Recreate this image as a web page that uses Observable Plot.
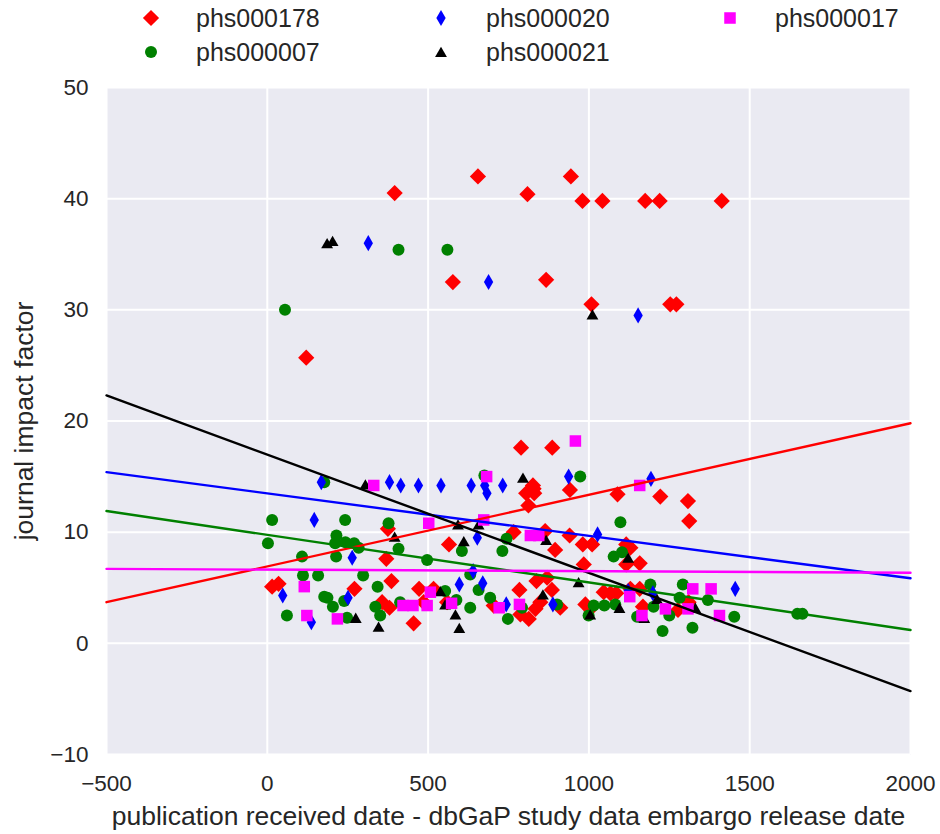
<!DOCTYPE html>
<html>
<head>
<meta charset="utf-8">
<script src="https://cdn.jsdelivr.net/npm/d3@7"></script>
<script src="https://cdn.jsdelivr.net/npm/@observablehq/plot@0.6"></script>
<style>
  html, body { margin: 0; padding: 0; background: white; }
  body { width: 940px; height: 834px; overflow: hidden; font-family: "Liberation Sans", Arial, sans-serif; }
  #legend { position: relative; width: 940px; height: 70px; }
  .item { position: absolute; height: 30px; display: flex; align-items: center; font-size: 25px; color: #262626; }
  .item svg { position: absolute; overflow: visible; }
</style>
</head>
<body>
<div id="legend"></div>
<div id="chart"></div>
<script>
// ---- data ----
const seriesNames = ["phs000178", "phs000007", "phs000020", "phs000021", "phs000017"];
const seriesColors = ["#ff0000", "#008000", "#0000ff", "#000000", "#ff00ff"];

const phs000178_x = [396, 655, 809, 944, 980, 1042, 1175, 1220, 1413, 577, 867, 1008, 1253, 1272, 121,
  789, 886, 826, 828, 805, 830, 812, 941, 1089, 1222, 1308, 1312, 375, 766, 864, 940, 565, 895, 981, 1010,
  1116, 1129, 984, 1116, 1158, 370, 386, 15, 35, 271, 472, 517, 357, 380, 455, 486, 559, 784, 837, 870, 885,
  704, 787, 813, 834, 849, 911, 989, 1004, 1046, 1067, 1085, 1129, 1158, 1310, 1168, 1277];
const phs000178_y = [40.5, 42.0, 40.4, 42.0, 39.8, 39.8, 39.8, 39.8, 39.8, 32.5, 32.7, 30.5, 30.5, 30.5, 25.7,
  17.6, 17.6, 14.2, 13.9, 13.5, 13.5, 12.4, 13.8, 13.4, 13.2, 12.8, 11.0, 10.3, 10.0, 10.1, 9.7, 8.9, 8.4, 8.9, 8.9,
  8.9, 8.6, 7.1, 7.1, 7.2, 7.6, 5.6, 5.1, 5.35, 4.9, 4.9, 4.9, 3.7, 3.2, 1.8, 3.7, 3.7, 4.8, 5.6, 5.9, 4.8,
  3.4, 2.6, 2.2, 3.1, 3.7, 3.2, 3.5, 3.1, 4.6, 4.5, 4.5, 4.9, 4.9, 3.7, 3.3, 3.0];

const phs000007_x = [408, 560, 55, 177, 675, 973, 15, 242, 377, 1098, 2, 215, 211, 243, 270, 284, 408, 108, 214,
  497, 605, 744, 731, 1077, 1103, 111, 158, 298, 631, 343, 177, 187, 239, 204, 336, 413, 61, 248, 351, 553, 588,
  657, 631, 693, 792, 748, 901, 999, 1015, 1048, 1082, 1191, 1292, 1282, 1370, 1201, 1150, 1250, 1452, 1229,
  1322, 1648, 1664];
const phs000007_y = [35.4, 35.4, 30.0, 14.5, 15.1, 15.0, 11.1, 11.1, 10.8, 10.9, 9.0, 9.7, 9.0, 9.1, 9.0, 8.6, 8.5,
  7.8, 7.8, 7.5, 8.3, 9.4, 8.3, 7.8, 8.2, 6.1, 6.1, 6.1, 6.2, 5.1, 4.2, 4.1, 3.8, 3.3, 3.3, 3.7, 2.5, 2.3, 2.5,
  4.7, 3.9, 4.8, 3.2, 4.1, 3.2, 2.2, 3.5, 2.5, 3.4, 3.4, 3.5, 5.3, 5.3, 4.1, 3.9, 3.3, 2.4, 2.5, 2.4, 1.1, 1.4,
  2.65, 2.65];

const phs000020_x = [314, 688, 1153, 168, 380, 415, 470, 540, 634, 676, 683, 732, 937, 1193, 146, 1027, 653, 264,
  640, 597, 670, 48, 251, 137, 743, 888, 1122, 1199, 1455];
const phs000020_y = [36.0, 32.5, 29.5, 14.5, 14.5, 14.2, 14.2, 14.2, 14.2, 14.2, 13.5, 14.2, 15.0, 14.8, 11.1, 9.8,
  9.5, 7.7, 6.5, 5.3, 5.4, 4.3, 4.1, 1.9, 3.5, 3.5, 4.7, 4.5, 4.9];

const phs000021_x = [186, 203, 1011, 305, 795, 593, 657, 396, 611, 867, 1122, 968, 538, 857, 553, 585, 597, 275,
  346, 1004, 1095, 1212, 1172, 1331];
const phs000021_y = [36.0, 36.2, 29.6, 14.3, 14.9, 10.7, 10.7, 9.6, 9.2, 9.3, 7.7, 5.5, 4.7, 4.4, 3.5, 2.6, 1.4,
  2.3, 1.5, 2.6, 3.2, 4.0, 2.3, 3.2];

const phs000017_x = [331, 502, 958, 682, 673, 818, 844, 1158, 115, 422, 453, 497, 123, 218, 507, 573, 721, 784,
  1127, 1323, 1380, 1238, 1308, 1165, 1406];
const phs000017_y = [14.2, 10.8, 18.2, 15.0, 11.1, 9.7, 9.7, 14.2, 5.1, 3.4, 3.4, 3.4, 2.5, 2.2, 4.6, 3.6, 3.2, 3.5,
  4.2, 4.9, 4.9, 3.1, 3.1, 2.5, 2.5];

// fitted regression lines, values at the two x limits
const fitX = [-500, 2000];
const fit_phs000178 = [3.7, 19.8];
const fit_phs000007 = [11.9, 1.2];
const fit_phs000020 = [15.4, 5.85];
const fit_phs000021 = [22.3, -4.3];
const fit_phs000017 = [6.7, 6.35];

const xTicks = [-500, 0, 500, 1000, 1500, 2000];
const yTicks = [-10, 0, 10, 20, 30, 40, 50];
const xLabel = "publication received date - dbGaP study data embargo release date";
const yLabel = "journal impact factor";

// ---- build tables ----
const xs = [phs000178_x, phs000007_x, phs000020_x, phs000021_x, phs000017_x];
const ys = [phs000178_y, phs000007_y, phs000020_y, phs000021_y, phs000017_y];
const fits = [fit_phs000178, fit_phs000007, fit_phs000020, fit_phs000021, fit_phs000017];
const symbols = ["diamond2", "circle", "diamond", "triangle", "square"];
const radii = [7.3, 6.0, 4.9, 4.4, 6.5];
const dys = [0, 0, 0, 1.7, 0];
const d3Symbols = {diamond2: d3.symbolDiamond2, circle: d3.symbolCircle, diamond: d3.symbolDiamond, triangle: d3.symbolTriangle, square: d3.symbolSquare};

const points = seriesNames.map((s, i) => xs[i].map((x, j) => ({series: s, x, y: ys[i][j]})));
const lines = seriesNames.map((s, i) => fitX.map((x, j) => ({series: s, x, y: fits[i][j]})));

const fmt = d => d < 0 ? "\u2212" + Math.abs(d) : String(d);

const dotMarks = points.map((pts, i) => Plot.dot(pts, {
  x: "x", y: "y", symbol: () => symbols[i], fill: seriesColors[i], stroke: "none", r: radii[i], dy: dys[i]
}));
const lineMarks = lines.map((pts, i) => Plot.line(pts, {
  x: "x", y: "y", stroke: seriesColors[i], strokeWidth: 2.4
}));

const chart = Plot.plot({
  width: 940,
  height: 764,
  marginTop: 17,
  marginLeft: 106,
  marginRight: 30,
  marginBottom: 80,
  style: {background: "white", fontFamily: "'Liberation Sans', Arial, sans-serif", color: "#262626", overflow: "visible"},
  x: {domain: [-500, 2000], label: null},
  y: {domain: [-10, 50], label: null},
  symbol: {type: "identity"},
  marks: [
    Plot.frame({fill: "#EAEAF2", stroke: null}),
    Plot.gridX(xTicks, {stroke: "white", strokeOpacity: 1, strokeWidth: 2}),
    Plot.gridY(yTicks, {stroke: "white", strokeOpacity: 1, strokeWidth: 2}),
    Plot.axisX(xTicks, {tickSize: 0, tickPadding: 21, tickFormat: fmt, fontSize: 22.5, fill: "#262626", label: null}),
    Plot.axisY(yTicks, {tickSize: 0, tickPadding: 18, tickFormat: fmt, fontSize: 22.5, fill: "#262626", label: null}),
    ...dotMarks,
    ...lineMarks,
    Plot.text([xLabel], {frameAnchor: "bottom", lineAnchor: "middle", textAnchor: "middle", dy: 62.5, fontSize: 26.5, fill: "#262626"}),
    Plot.text([yLabel], {frameAnchor: "left", lineAnchor: "middle", textAnchor: "middle", rotate: -90, dx: -81.5, fontSize: 26.5, fill: "#262626"})
  ]
});
document.getElementById("chart").appendChild(chart);

// ---- legend (3 columns, filled column-wise) ----
const legend = document.getElementById("legend");
const legendPos = [[151, 18], [151, 52], [441, 18], [441, 52], [730, 18]];
seriesNames.forEach((s, i) => {
  const [mx, my] = legendPos[i];
  const item = document.createElement("div");
  item.className = "item";
  item.style.left = (mx + 45) + "px";
  item.style.top = (my - 15) + "px";
  item.textContent = s;
  legend.appendChild(item);
  const ns = "http://www.w3.org/2000/svg";
  const svg = document.createElementNS(ns, "svg");
  svg.setAttribute("width", 20); svg.setAttribute("height", 20);
  svg.style.position = "absolute";
  svg.style.left = (mx - 10) + "px";
  svg.style.top = (my - 10) + "px";
  const path = document.createElementNS(ns, "path");
  const r = radii[i];
  path.setAttribute("d", d3.symbol(d3Symbols[symbols[i]], Math.PI * r * r)());
  path.setAttribute("transform", `translate(10,${10 + dys[i]})`);
  path.setAttribute("fill", seriesColors[i]);
  svg.appendChild(path);
  legend.appendChild(svg);
});
</script>
</body>
</html>
